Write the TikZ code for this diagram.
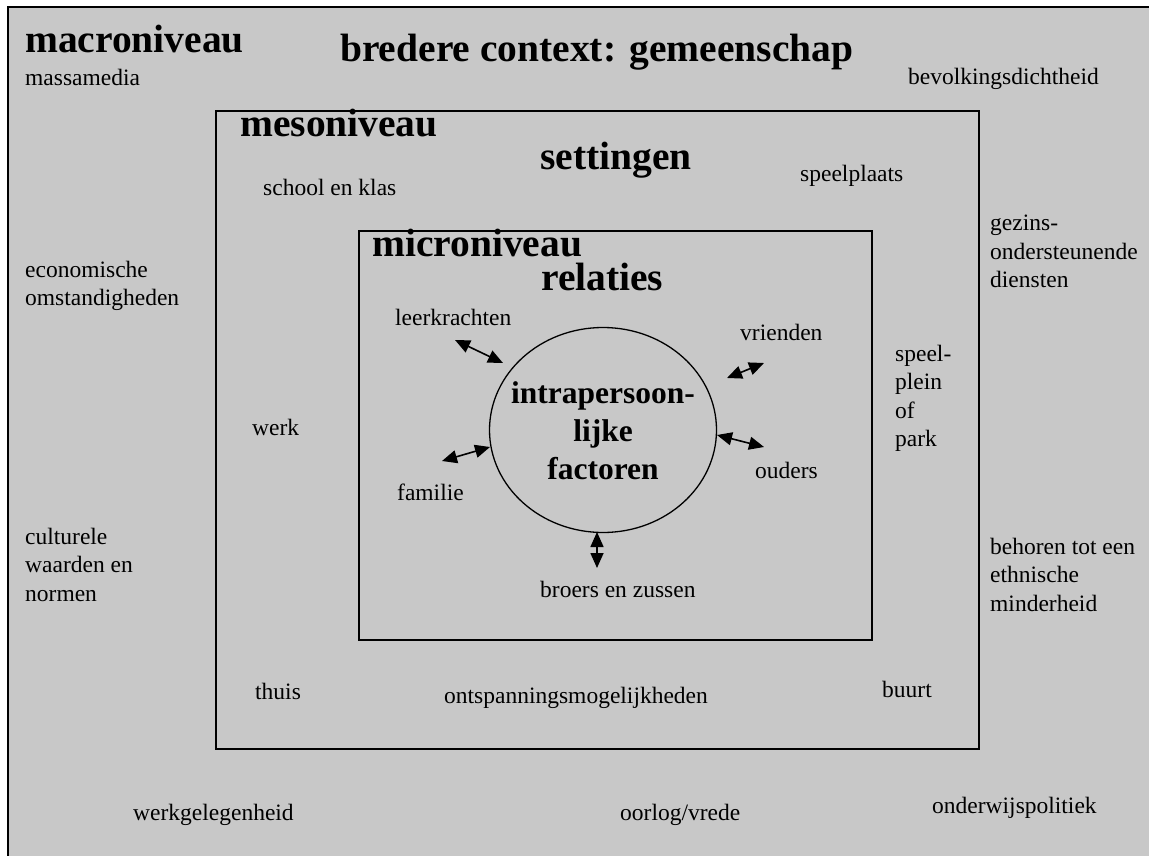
\documentclass[tikz,border=0pt]{standalone}
\usepackage{fontspec}
\setmainfont{Liberation Serif}
\usetikzlibrary{arrows.meta,shapes.geometric}
\definecolor{bggray}{HTML}{C8C8C8}
\tikzset{
  lbl/.style={inner sep=0pt, anchor=base west, font=\fontsize{23.5}{28.5}\selectfont},
  mlbl/.style={inner sep=0pt, anchor=north west, align=left, font=\fontsize{23.5}{28.3}\selectfont},
  hdr/.style={inner sep=0pt, anchor=base west, font=\bfseries\fontsize{39.5}{44}\selectfont},
  levelbox/.style={draw=black, line width=2pt},
  rel/.style={{Triangle[length=15pt,width=13pt]}-{Triangle[length=15pt,width=13pt]}, line width=1.6pt}
}
\begin{document}
\begin{tikzpicture}[x=1pt,y=-1pt]
\useasboundingbox (0,0) rectangle (1149,856);
\fill[white] (0,0) rectangle (1149,856);
\fill[bggray] (8,7) rectangle (1149,856);
\draw[line width=2pt] (8,856) -- (8,7) -- (1149,7);
% boxes
\node[levelbox, minimum width=763pt, minimum height=638pt, anchor=north west, inner sep=0pt] (meso) at (215,110) {};
\node[levelbox, minimum width=513pt, minimum height=409pt, anchor=north west, inner sep=0pt] (micro) at (358,230) {};
\node[draw=black, line width=1.3pt, ellipse, minimum width=227pt, minimum height=205pt, inner sep=0pt] (self) at (603,430) {};
% headers
\node[hdr] (hmacro) at (25,53) {macroniveau};
\node[hdr] (hctx) at (340,62) {bredere context: gemeenschap};
\node[hdr] (hmeso) at (240,137) {mesoniveau};
\node[hdr] (hset) at (540,170) {settingen};
\node[hdr] (hmicro) at (372,256) {microniveau};
\node[hdr] (hrel) at (541,290) {relaties};
\node[inner sep=0pt, align=center, font=\bfseries\fontsize{31.5}{38}\selectfont] (intra) at (603,431) {intrapersoon-\\lijke\\factoren};
% macro labels
\node[lbl] (massa) at (25,86) {massamedia};
\node[lbl] (bevolk) at (908,85) {bevolkingsdichtheid};
\node[mlbl] (gezin) at (990,215) {gezins-\\ondersteunende\\diensten};
\node[mlbl] (econ) at (25,261) {economische\\omstandigheden};
\node[mlbl] (cult) at (25,528) {culturele\\waarden en\\normen};
\node[mlbl] (ethn) at (990,538) {behoren tot een\\ethnische\\minderheid};
\node[lbl] (werkgel) at (133,820) {werkgelegenheid};
\node[lbl] (oorlog) at (620,820) {oorlog/vrede};
\node[lbl] (onderw) at (932,813) {onderwijspolitiek};
% meso labels
\node[lbl] (school) at (263,195) {school en klas};
\node[lbl] (speelpl) at (800,182) {speelplaats};
\node[mlbl] (park) at (895,345) {speel-\\plein\\of\\park};
\node[lbl] (werk) at (252,435) {werk};
\node[lbl] (thuis) at (255,699) {thuis};
\node[lbl] (ontsp) at (444,703) {ontspanningsmogelijkheden};
\node[lbl] (buurt) at (882,697) {buurt};
% micro labels
\node[lbl] (leer) at (395,325) {leerkrachten};
\node[lbl] (vrien) at (740,340) {vrienden};
\node[lbl] (fam) at (397,500) {familie};
\node[lbl] (oud) at (755,478) {ouders};
\node[lbl] (broers) at (540,597) {broers en zussen};
% arrow end points
\coordinate (aleer1) at (455,340);
\coordinate (aleer2) at (503,363);
\coordinate (avri1) at (727,378);
\coordinate (avri2) at (764,363);
\coordinate (aoud1) at (717,435);
\coordinate (aoud2) at (764,447);
\coordinate (afam1) at (442,461);
\coordinate (afam2) at (490,447);
\coordinate (abro1) at (597,532);
\coordinate (abro2) at (597,568);
\draw[rel] (aleer1) -- (aleer2);
\draw[rel] (avri1) -- (avri2);
\draw[rel] (aoud1) -- (aoud2);
\draw[rel] (afam1) -- (afam2);
\draw[rel] (abro1) -- (abro2);
\end{tikzpicture}
\end{document}
